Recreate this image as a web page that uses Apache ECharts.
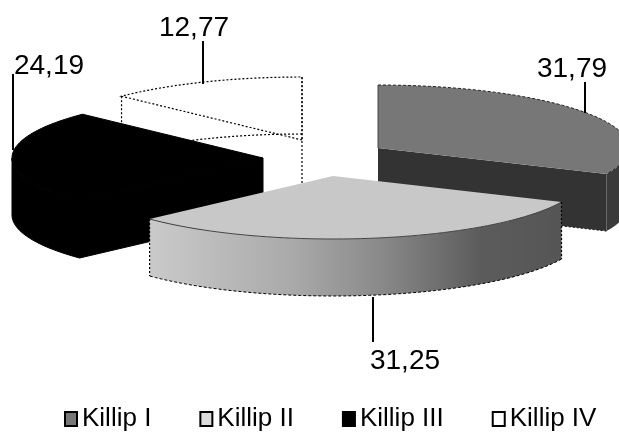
<!DOCTYPE html>
<html>
<head>
<meta charset="utf-8">
<style>html,body{margin:0;padding:0;background:#fff}#main{width:619px;height:434px}</style>
<script src="https://cdn.jsdelivr.net/npm/echarts@6/dist/echarts.min.js"></script>
</head>
<body>
<div id="main"></div>
<script>
const categories = ['Killip I', 'Killip II', 'Killip III', 'Killip IV'];
const values = [31.79, 31.25, 24.19, 12.77];

// ellipse of the tilted pie
const RX = 251, RY = 63, DEPTH = 57;
const centers = [[378, 148], [333, 176], [263, 158], [302, 140]];
const labelPos = [[572, 69], [405, 361], [49, 66], [194, 28]];
const leaders = [[[585, 82], [585, 113]], [[373, 297], [373, 342]], [[13, 74], [13, 150]], [[203, 41], [203, 84]]];
const legendFill = ['#777777', '#dddddd', '#000000', '#ffffff'];
const drawOrder = [3, 0, 2, 1];

const total = values.reduce((a, b) => a + b, 0);
const starts = [];
values.reduce((acc, v, i) => { starts[i] = acc; return acc + v; }, 0);
const toDeg = v => v / total * 360;

function pt(c, deg, dy) {
  const r = deg * Math.PI / 180;
  return [c[0] + RX * Math.sin(r), c[1] - RY * Math.cos(r) + (dy || 0)];
}
function arc(c, a, b, dy) {
  const out = [];
  const n = Math.max(2, Math.ceil(Math.abs(b - a) / 2));
  for (let i = 0; i <= n; i++) out.push(pt(c, a + (b - a) * i / n, dy));
  return out;
}
const poly = (points, style) => ({ type: 'polygon', shape: { points }, style });
const line = (points, style) => ({ type: 'polyline', shape: { points }, style: Object.assign({ fill: null }, style) });

const DOTS = { stroke: '#000', lineWidth: 1.2, lineDash: [2, 2] };
const SOLID_BLACK = { fill: '#000', stroke: '#000', lineWidth: 1 };

function sliceShapes(i, a, b) {
  const c = centers[i];
  const top = [c].concat(arc(c, a, b));
  const low = [c[0], c[1] + DEPTH];
  if (i === 0) {
    return [
      poly([c, pt(c, b), pt(c, b, DEPTH), low], { fill: '#333333' }),
      poly(arc(c, 90, b).concat(arc(c, b, 90, DEPTH)), { fill: '#3a3a3a' }),
      poly(top, { fill: '#777777' }),
      line(arc(c, a, b), { stroke: '#222', lineWidth: 1, lineDash: [3, 2] }),
      line([pt(c, a), c], { stroke: '#444', lineWidth: 1 }),
      line([low, pt(c, b, DEPTH)], { stroke: '#111', lineWidth: 1, lineDash: [2, 2] })
    ];
  }
  if (i === 1) {
    const shade = new echarts.graphic.LinearGradient(150, 0, 562, 0, [
      { offset: 0, color: '#cacaca' },
      { offset: 0.35, color: '#a9a9a9' },
      { offset: 0.55, color: '#8b8b8b' },
      { offset: 0.8, color: '#5c5c5c' },
      { offset: 1, color: '#555555' }
    ], true);
    return [
      poly(arc(c, a, b).concat(arc(c, b, a, DEPTH)), { fill: shade }),
      poly(top, { fill: '#c8c8c8' }),
      line(arc(c, a, b), { stroke: '#444', lineWidth: 1 }),
      line(arc(c, a, b, DEPTH), { stroke: '#000', lineWidth: 1, lineDash: [3, 2] }),
      line([pt(c, a), pt(c, a, DEPTH)], DOTS),
      line([pt(c, b), pt(c, b, DEPTH)], DOTS)
    ];
  }
  if (i === 2) {
    // only the front half of the rim shows, it stops at the left extreme
    return [
      poly([c, pt(c, a), pt(c, a, DEPTH), low], SOLID_BLACK),
      poly(arc(c, a, 270).concat(arc(c, 270, a, DEPTH)), SOLID_BLACK),
      poly(top, SOLID_BLACK)
    ];
  }
  return [
    poly(top, Object.assign({ fill: '#fff' }, DOTS)),
    line([pt(c, a), pt(c, a, DEPTH)], DOTS),
    line(arc(c, a, b, DEPTH), DOTS),
    line([pt(c, b), pt(c, b, DEPTH + 50)], DOTS)
  ];
}

function renderSlice(i) {
  return function (params, api) {
    const v = api.value(0);
    const a = toDeg(starts[i]);
    const b = a + toDeg(v);
    const children = sliceShapes(i, a, b);
    children.push(line(leaders[i], { stroke: '#000', lineWidth: 2 }));
    children.push({
      type: 'text',
      style: {
        x: labelPos[i][0], y: labelPos[i][1],
        text: v.toFixed(2).replace('.', ','),
        fill: '#000',
        font: '28px "Liberation Sans", Arial, sans-serif',
        align: 'center', verticalAlign: 'middle'
      }
    });
    return { type: 'group', children };
  };
}

const myChart = echarts.init(document.getElementById('main'), null, { renderer: 'canvas' });

const option = {
  animation: false,
  backgroundColor: '#fff',
  legend: {
    left: 64, top: 406, padding: 0,
    icon: 'rect',
    itemWidth: 12, itemHeight: 14, itemGap: 48,
    selectedMode: false,
    textStyle: { color: '#000', fontSize: 26, fontFamily: '"Liberation Sans", Arial, sans-serif' },
    data: categories.map((name, i) => ({
      name,
      itemStyle: { color: legendFill[i], borderColor: '#000', borderWidth: 2 }
    }))
  },
  series: drawOrder.map((i, order) => ({
    type: 'custom',
    name: categories[i],
    coordinateSystem: 'none',
    silent: true,
    z: order + 2,
    itemStyle: { color: legendFill[i] },
    renderItem: renderSlice(i),
    data: [[values[i]]]
  }))
};

myChart.setOption(option);
</script>
</body>
</html>
